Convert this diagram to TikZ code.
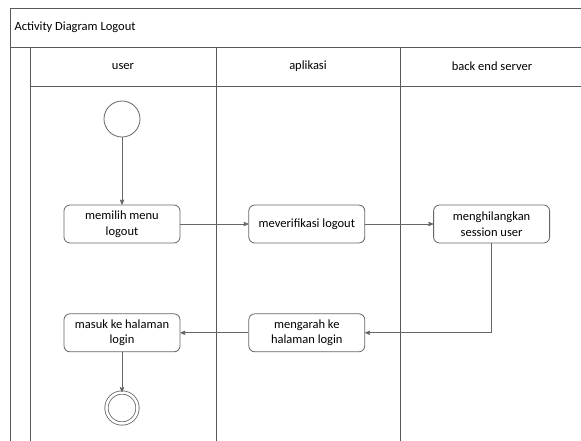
\documentclass[tikz,border=0pt]{standalone}
\usepackage{fontspec}
\setmainfont{Carlito}
\usetikzlibrary{positioning}
\usetikzlibrary{arrows}
\tikzset{
	>=stealth',
	lane/.style={draw=black!65, line width=0.9pt},
	activity/.style={
		rectangle,
		rounded corners=6pt,
		draw=black!60, line width=0.8pt,
		minimum width=116pt,
		minimum height=38pt,
		align=center,
		font=\fontsize{12.5}{15.5}\selectfont},
	startnode/.style={circle, draw=black!60, line width=0.8pt, minimum size=36pt, inner sep=0pt},
	endnode/.style={circle, draw=black!60, line width=0.8pt, double=white, double distance=2.5pt, minimum size=31pt, inner sep=0pt},
	line/.style={draw=black!60, line width=0.8pt, ->},
	lanetitle/.style={font=\fontsize{12.5}{15}\selectfont},
}

\begin{document}
\begin{tikzpicture}[x=1pt,y=-1pt,node distance=68pt]
	\useasboundingbox (0,0) rectangle (581,440);
	\clip (0,0) rectangle (581,440);
	\fill[white] (0,0) rectangle (581,440);

	% pool and lanes
	\draw[lane] (10,460) -- (10,8) -- (600,8);
	\draw[lane] (10,47) -- (600,47);
	\draw[lane] (30,86) -- (600,86);
	\draw[lane] (30,47) -- (30,460);
	\draw[lane] (216,47) -- (216,460);
	\draw[lane] (400,47) -- (400,460);
	\node[lanetitle, anchor=west] (judul) at (11,27.5) {Activity Diagram Logout};
	\node[lanetitle] (user) at (123,66.5) {user};
	\node[lanetitle] (aplikasi) at (308,66.5) {aplikasi};
	\node[lanetitle] (server) at (492,66.5) {back end server};

	% activities
	\node[startnode] (mulai) at (122,119) {};
	\node[activity] (memilih) at (122,224) {memilih menu\\logout};
	\node[activity, right=of memilih] (verifikasi) {meverifikasi logout};
	\node[activity, right=of verifikasi] (hapus) {menghilangkan\\session user};
	\node[activity, below=70pt of verifikasi] (arah) {mengarah ke\\halaman login};
	\node[activity, below=70pt of memilih] (masuk) {masuk ke halaman\\login};
	\node[endnode] (selesai) at (122,408) {};

	% flows
	\path[line] (mulai) -- (memilih);
	\path[line] (memilih) -- (verifikasi);
	\path[line] (verifikasi) -- (hapus);
	\path[line] (hapus.south) |- (arah.east);
	\path[line] (arah) -- (masuk);
	\path[line] (masuk) -- (selesai);
\end{tikzpicture}
\end{document}
